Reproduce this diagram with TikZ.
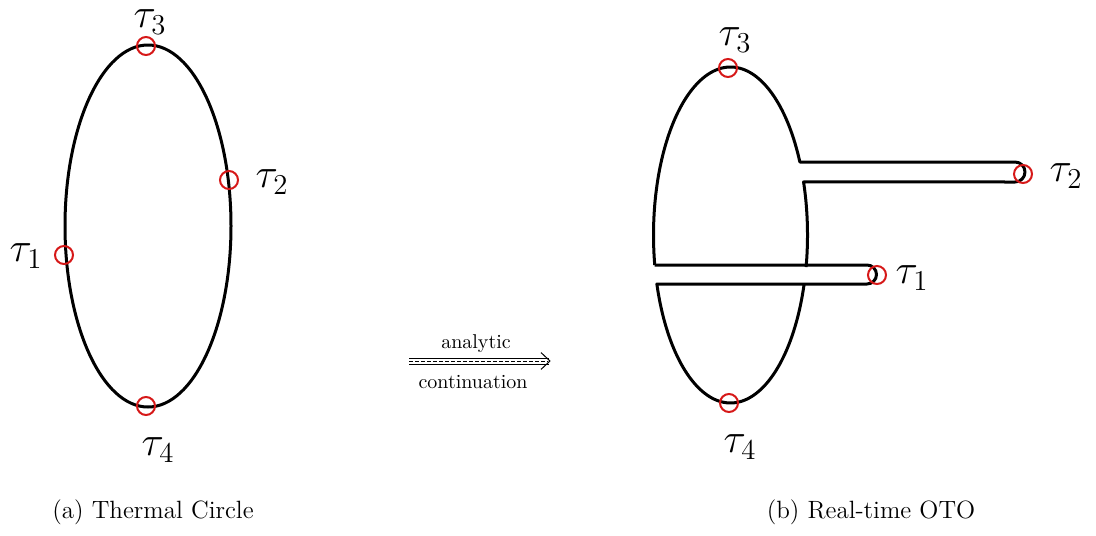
\documentclass[tikz,border=0pt]{standalone}
\usetikzlibrary{calc}
\definecolor{mkred}{RGB}{214,24,24}
\begin{document}
\begin{tikzpicture}[x=0.5pt,y=-0.5pt,
  contour/.style={line width=1.5pt,line join=round},
  marker/.style={circle,draw=mkred,line width=1pt,minimum size=9pt,inner sep=0pt},
  tlabel/.style={font=\huge,inner sep=0.5pt},
  caption/.style={font=\fontsize{12.5}{15}\selectfont},
  arrowlbl/.style={font=\normalsize,inner sep=0pt}]
\useasboundingbox (0,0) rectangle (1096,535);

% ---------- (a) thermal circle ----------
\draw[contour] (148,226) ellipse [x radius=83, y radius=181];
\node[marker] (m3a) at (146,46) {};
\node[marker] (m2a) at (229,180) {};
\node[marker] (m1a) at (64,255) {};
\node[marker] (m4a) at (146,406) {};
\node[tlabel] (t3a) at (150,22) {$\tau_3$};
\node[tlabel] (t2a) at (272,182) {$\tau_2$};
\node[tlabel] (t1a) at (26,256) {$\tau_1$};
\node[tlabel] (t4a) at (158,450) {$\tau_4$};
\node[caption] (capa) at (153,512) {(a) Thermal Circle};

% ---------- arrow ----------
\coordinate (as) at (409,361);
\coordinate (ae) at (550,361);
\draw[line width=0.5pt] ([yshift=1.5pt]as) -- ([xshift=-0.5pt,yshift=1.5pt]ae);
\draw[line width=0.5pt] ([yshift=-1.5pt]as) -- ([xshift=-0.5pt,yshift=-1.5pt]ae);
\draw[line width=0.4pt,dash pattern=on 2pt off 1pt] (as) -- ([xshift=-1pt]ae);
\draw[line width=0.5pt,line join=round] ([xshift=-4.5pt,yshift=4.2pt]ae) -- (ae) -- ([xshift=-4.5pt,yshift=-4.2pt]ae);
\node[arrowlbl] (an) at (476,344) {analytic};
\node[arrowlbl] (co) at (473,382) {continuation};

% ---------- (b) real-time OTO ----------
\draw[contour] plot[domain=169.7:334.25,samples=90] ({730.5+77*cos(\x)},{235+168*sin(\x)})
  -- (1015,162) .. controls (1020.5,162) and (1025,166.5) .. (1025,172)
  .. controls (1025,177.5) and (1020.5,182) .. (1015,182)
  -- plot[domain=341.6:371,samples=30] ({730.5+77*cos(\x)},{235+168*sin(\x)});
\draw[contour] (654.7,265) -- (867,265) .. controls (872.2,265) and (876.5,269.3) .. (876.5,274.5)
  .. controls (876.5,279.7) and (872.2,284) .. (867,284)
  -- plot[domain=0:146.08,samples=80] ({730.5+77*cos(163.04-\x)},{235+168*sin(163.04-\x)});
\node[marker] (m3b) at (728,68) {};
\node[marker] (m4b) at (729,403) {};
\node[marker] (m1b) at (877,275) {};
\node[marker] (m2b) at (1023,174) {};
\node[tlabel] (t3b) at (735,40) {$\tau_3$};
\node[tlabel] (t4b) at (740,447) {$\tau_4$};
\node[tlabel] (t1b) at (912,278) {$\tau_1$};
\node[tlabel] (t2b) at (1066,176) {$\tau_2$};
\node[caption] (capb) at (871,512) {(b) Real-time OTO};
\end{tikzpicture}
\end{document}
